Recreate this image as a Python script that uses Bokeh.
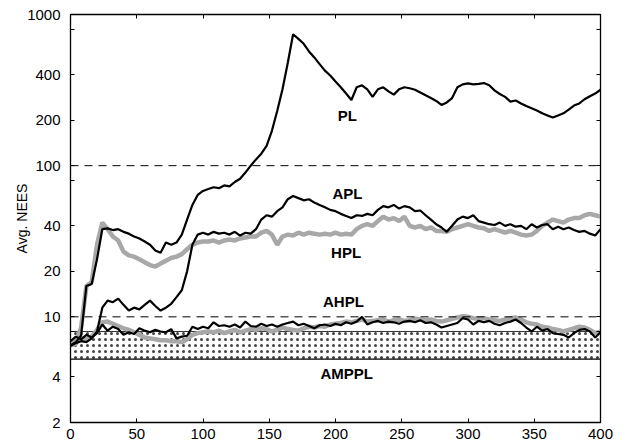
from bokeh.plotting import figure
from bokeh.models import Range1d, FixedTicker, LinearAxis, LogAxis, Span
from bokeh.core.properties import value
from bokeh.embed import file_html
from bokeh.resources import INLINE

# ---- data ----
steps = list(range(0, 401, 4))

pl = [6.5, 6.8, 7.5, 16, 16.5, 24, 38, 38.5, 37.5, 38, 36.5, 35.5, 34, 33, 31.5, 30,
      27.5, 26.5, 31, 30, 31, 35, 44, 55, 64, 68, 70, 72, 71, 74, 73, 78, 82, 90, 100,
      110, 120, 135, 170, 230, 320, 480, 740, 690, 640, 570, 520, 470, 425, 395, 360,
      330, 300, 272, 330, 340, 320, 285, 320, 330, 310, 295, 320, 330, 325, 318, 305,
      292, 280, 268, 252, 262, 280, 330, 345, 350, 345, 348, 352, 340, 315, 298, 285,
      265, 270, 258, 248, 240, 232, 222, 215, 208, 215, 222, 235, 250, 258, 275, 288,
      300, 318]

hpl = [6.5, 6.6, 8.5, 16, 17, 30, 42, 38, 34, 32, 27, 25.5, 25, 24, 23, 22, 21.5, 22.5,
       23.5, 24.5, 25, 26, 28, 30, 31, 31.5, 31.5, 32, 31, 32, 32.5, 32, 33, 33.5, 34,
       34, 36, 37, 35, 30, 34, 35, 34.5, 36, 35, 36, 35.5, 35, 35.5, 35, 36, 35, 35.5,
       35, 38, 40, 41, 40, 43, 46, 44, 45, 43, 46, 40, 39, 40, 38, 39, 37, 37, 36.5, 38,
       39, 40, 41, 40, 39, 38.5, 37, 38, 37, 36, 37, 36, 35, 34.5, 35, 37, 40, 42, 44,
       43, 42, 44, 45, 45, 47, 48, 47, 46]

apl = [6.4, 6.7, 6.9, 6.8, 7.2, 8, 11.5, 12.8, 12.5, 13.2, 12, 11, 11.5, 11.2, 12, 12.8,
       11.8, 11, 11.5, 12.2, 13.5, 15, 20, 30, 35, 36, 35, 36.5, 35.5, 36, 35, 36.5,
       34.5, 36, 35.5, 38, 44, 47, 46, 50, 53, 60, 63, 61, 59, 60, 57, 55, 53, 51, 50,
       48, 46.5, 45, 47, 46.5, 48, 47, 51, 54, 53, 55, 52, 54, 53, 50, 50.5, 47, 44, 41,
       39, 36.5, 40, 44, 46, 45, 47, 43, 42, 41, 40.5, 42, 40, 41, 39.5, 40, 38, 41, 39,
       40.5, 41, 38, 39.5, 38, 39, 37.5, 36.5, 37, 35.5, 34.5, 38]

amppl = [6.6, 7.0, 7.2, 7.1, 7.4, 8.2, 9.2, 9.3, 9.0, 8.7, 8.4, 8.2, 7.9, 7.6, 7.3, 7.2,
         7.1, 7.0, 7.0, 6.9, 6.9, 6.8, 7.1, 7.6, 7.8, 7.9, 8.0, 7.9, 8.1, 7.8, 8.0, 8.2,
         7.9, 8.1, 8.3, 8.2, 8.4, 8.3, 8.0, 8.2, 8.5, 8.3, 8.2, 8.1, 8.4, 8.6, 8.5, 8.7,
         8.6, 8.9, 9.0, 9.1, 9.3, 9.2, 9.4, 9.6, 9.3, 9.4, 9.5, 9.6, 9.3, 9.5, 9.6, 9.4,
         9.5, 9.7, 9.6, 9.5, 9.6, 9.4, 9.3, 9.5, 9.7, 9.9, 10.1, 10.0, 9.8, 9.7, 9.8, 9.6,
         9.5, 9.4, 9.6, 9.8, 9.9, 9.6, 9.2, 9.0, 8.9, 8.6, 8.5, 8.3, 8.2, 8.0, 8.2, 8.4,
         8.6, 8.5, 8.2, 7.8, 8.0]

ahpl = [6.9, 7.4, 7.1, 7.6, 7.3, 7.8, 8.9, 8.1, 8.6, 8.3, 7.6, 7.9, 7.7, 8.4, 8.1, 7.9,
        8.2, 8.0, 7.9, 8.3, 7.2, 7.4, 7.5, 8.6, 8.3, 8.6, 8.4, 9.2, 8.7, 8.8, 8.6, 8.9,
        8.5, 9.3, 8.7, 8.6, 9.0, 8.7, 8.9, 8.6, 8.9, 9.1, 9.3, 8.8, 9.0, 8.7, 8.4, 8.8,
        8.9, 8.7, 9.0, 8.8, 9.2, 9.0, 9.3, 10.0, 8.9, 9.2, 9.4, 9.1, 9.3, 9.2, 9.0, 9.3,
        9.4, 9.2, 9.5, 9.1, 9.2, 8.9, 8.5, 8.7, 8.9, 9.1, 9.8, 9.6, 8.9, 9.4, 9.2, 9.4,
        9.0, 8.8, 9.1, 9.3, 9.6, 9.1, 8.5, 8.0, 8.6, 8.1, 8.3, 7.8, 7.7, 7.6, 7.3, 7.8,
        8.2, 8.3, 8.0, 7.3, 7.9]

bound_upper = 100
bound_lower = 10
band_x = [0, 400]
band_low = [5.25, 5.25]
band_high = [8.0, 8.0]

x_ticks = [0, 50, 100, 150, 200, 250, 300, 350, 400]
y_ticks = [2, 4, 8, 10, 20, 40, 80, 100, 200, 400, 800, 1000]
y_unlabeled = [8, 80, 800]

label_names = ["PL", "APL", "HPL", "AHPL", "AMPPL"]
label_x = [209, 209, 208, 206, 208.5]
label_y = [214, 65, 26.7, 12.6, 4.24]

FONT = "Liberation Sans"
GRAY = "#a8a8a8"

p = figure(width=625, height=445, output_backend="svg", toolbar_location=None,
           y_axis_type="log", x_range=Range1d(0, 400), y_range=Range1d(2, 1000),
           min_border_left=70, min_border_right=25, min_border_top=14, min_border_bottom=23)
p.grid.visible = False
p.outline_line_color = "black"
p.outline_line_width = 1.3
p.background_fill_color = "white"
p.border_fill_color = "white"

# band
p.varea(x=band_x, y1=band_low, y2=band_high, fill_alpha=0,
        hatch_pattern="dot", hatch_color="#444444", hatch_scale=6, hatch_weight=1)
p.line(x=band_x, y=band_high, line_color="black", line_width=0.8)
p.line(x=band_x, y=band_low, line_color="black", line_width=1.4)

for loc in (bound_upper, bound_lower):
    p.add_layout(Span(location=loc, dimension="width", line_color="black",
                      line_width=1, line_dash="8 6"))

p.line(steps, hpl, line_color=GRAY, line_width=4.5)
p.line(steps, amppl, line_color=GRAY, line_width=4.5)
p.line(steps, pl, line_color="black", line_width=2.2)
p.line(steps, apl, line_color="black", line_width=2.2)
p.line(steps, ahpl, line_color="black", line_width=2.2)

p.text(x=label_x, y=label_y, text=label_names, text_align="center", text_baseline="middle",
       text_font=value(FONT), text_font_style="bold", text_font_size="15px", text_color="black")

xt = FixedTicker(ticks=x_ticks)
yt = FixedTicker(ticks=y_ticks)

def style(ax, ticks, labels=True):
    ax.major_tick_in = 4
    ax.major_tick_out = 0
    ax.minor_tick_line_color = None
    ax.axis_line_color = "black"
    ax.major_tick_line_color = "black"
    ax.major_label_text_font = FONT
    ax.major_label_text_color = "black"
    if labels:
        ax.major_label_text_font_size = "15px"
    else:
        ax.major_label_text_font_size = "1px"
        ax.major_label_standoff = 0
        ax.major_label_overrides = {t: "" for t in ticks}

xa = p.xaxis[0]
xa.ticker = xt
style(xa, x_ticks)
xa.major_label_standoff = 6

ya = p.yaxis[0]
ya.ticker = yt
style(ya, y_ticks)
ya.major_label_standoff = 10
ya.major_label_overrides = {t: "" for t in y_unlabeled}
ya.axis_label = "Avg. NEES"
ya.axis_label_text_font = FONT
ya.axis_label_text_font_style = "normal"
ya.axis_label_text_font_size = "14px"
ya.axis_label_text_color = "black"
ya.axis_label_standoff = -6

top = LinearAxis(ticker=xt)
style(top, x_ticks, labels=False)
p.add_layout(top, "above")
right = LogAxis(ticker=yt)
style(right, y_ticks, labels=False)
p.add_layout(right, "right")

open("out.html", "w").write(file_html(p, INLINE))
